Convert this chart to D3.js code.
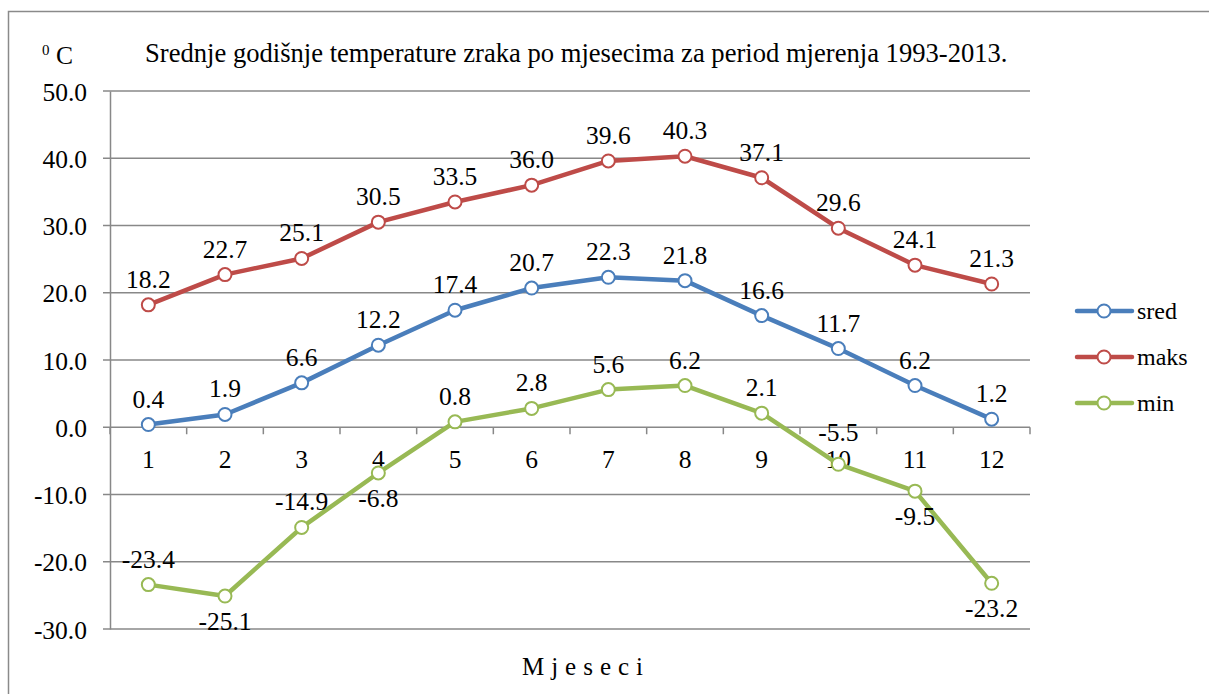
<!DOCTYPE html>
<html>
<head>
<meta charset="utf-8">
<script src="https://cdn.jsdelivr.net/npm/d3@7"></script>
<style>
  body { margin: 0; background: #fff; }
</style>
</head>
<body>
<div id="chart-area"></div>
<script>
// data
var months = [1, 2, 3, 4, 5, 6, 7, 8, 9, 10, 11, 12];
var sred = [0.4, 1.9, 6.6, 12.2, 17.4, 20.7, 22.3, 21.8, 16.6, 11.7, 6.2, 1.2];
var maks = [18.2, 22.7, 25.1, 30.5, 33.5, 36.0, 39.6, 40.3, 37.1, 29.6, 24.1, 21.3];
var min = [-23.4, -25.1, -14.9, -6.8, 0.8, 2.8, 5.6, 6.2, 2.1, -5.5, -9.5, -23.2];
var yTicks = [-30, -20, -10, 0, 10, 20, 30, 40, 50];
var seriesNames = ["sred", "maks", "min"];

// where the min labels sit relative to the marker
var minLabelSide = ["up", "down", "up", "down", "up", "up", "up", "up", "up", "high", "down", "down"];
var labelOffset = {up: -17, high: -23, down: 34};

var FONT = "Liberation Serif";
var width = 1209, height = 694;
var svg = d3.select("#chart-area").append("svg")
    .attr("width", width)
    .attr("height", height)
    .attr("font-family", FONT);

// outer frame
svg.append("rect")
    .attr("x", 8.5).attr("y", 11.5)
    .attr("width", 1220).attr("height", 700)
    .attr("fill", "none")
    .attr("stroke", "#8a8a8a")
    .attr("stroke-width", 1.5);

var x = d3.scaleBand()
    .domain(months)
    .range([110, 1030]);

var y = d3.scaleLinear()
    .domain([-30, 50])
    .range([629, 91]);

var colors = {sred: "#4A7EBB", maks: "#BE4B48", min: "#98B954"};
var series = [
    {name: "sred", values: sred},
    {name: "maks", values: maks},
    {name: "min", values: min}
];

// gridlines
svg.append("g").selectAll("line").data(yTicks).enter()
    .append("line")
        .attr("x1", 103).attr("x2", 1030)
        .attr("y1", d => y(d)).attr("y2", d => y(d))
        .attr("stroke", "#888")
        .attr("stroke-width", 1.5);

// left axis
var leftAxis = d3.axisLeft(y)
    .tickValues(yTicks)
    .tickSize(0)
    .tickPadding(23)
    .tickFormat(d => d.toFixed(1));
var gy = svg.append("g")
    .attr("transform", "translate(110,0)")
    .call(leftAxis)
    .attr("font-family", FONT)
    .attr("font-size", "25.5px");
gy.select(".domain").attr("stroke", "#888").attr("stroke-width", 1.5);
gy.selectAll("text")
    .attr("fill", "#000")
    .attr("dy", "0.36em");

// bottom axis on the zero line
var ticksX = months.map(m => x(m)).concat([x.range()[1]]);
svg.append("g").selectAll("line").data(ticksX).enter()
    .append("line")
        .attr("x1", d => d).attr("x2", d => d)
        .attr("y1", y(0)).attr("y2", y(0) + 7)
        .attr("stroke", "#888")
        .attr("stroke-width", 1.5);
svg.append("g").selectAll("text").data(months).enter()
    .append("text")
        .attr("x", d => x(d) + x.bandwidth() / 2)
        .attr("y", 468)
        .attr("text-anchor", "middle")
        .attr("font-size", "25.5px")
        .text(d => d);

// lines and markers
var line = d3.line()
    .x((d, i) => x(months[i]) + x.bandwidth() / 2)
    .y(d => y(d));

series.forEach(s => {
    svg.append("path")
        .datum(s.values)
        .attr("d", line)
        .attr("fill", "none")
        .attr("stroke", colors[s.name])
        .attr("stroke-width", 4.5)
        .attr("stroke-linejoin", "round");
    svg.append("g").selectAll("circle").data(s.values).enter()
        .append("circle")
            .attr("cx", (d, i) => x(months[i]) + x.bandwidth() / 2)
            .attr("cy", d => y(d))
            .attr("r", 6.5)
            .attr("fill", "#fff")
            .attr("stroke", colors[s.name])
            .attr("stroke-width", 2);
    svg.append("g").selectAll("text").data(s.values).enter()
        .append("text")
            .attr("x", (d, i) => x(months[i]) + x.bandwidth() / 2)
            .attr("y", (d, i) => {
                var side = s.name == "min" ? minLabelSide[i] : "up";
                return y(d) + labelOffset[side];
            })
            .attr("text-anchor", "middle")
            .attr("font-size", "25.5px")
            .text(d => d.toFixed(1));
});

// legend
var legend = svg.append("g").selectAll("g").data(seriesNames).enter()
    .append("g")
        .attr("transform", (d, i) => "translate(1077," + (311 + i * 46) + ")");
legend.append("line")
    .attr("x1", 0).attr("x2", 55)
    .attr("stroke", d => colors[d])
    .attr("stroke-width", 4.5)
    .attr("stroke-linecap", "round");
legend.append("circle")
    .attr("cx", 27).attr("r", 6.5)
    .attr("fill", "#fff")
    .attr("stroke", d => colors[d])
    .attr("stroke-width", 2);
legend.append("text")
    .attr("x", 60).attr("y", 8)
    .attr("font-size", "24px")
    .text(d => d);

// titles
svg.append("text")
    .attr("x", 145).attr("y", 62)
    .attr("font-size", "26.6px")
    .text("Srednje godišnje temperature zraka po mjesecima za period mjerenja 1993-2013.");

var unit = svg.append("text")
    .attr("x", 42).attr("y", 64)
    .attr("font-size", "25.5px");
unit.append("tspan").attr("font-size", "15px").attr("dy", "-9").text("0");
unit.append("tspan").attr("dy", "9").text(" C");

svg.append("text")
    .attr("x", 586).attr("y", 675)
    .attr("text-anchor", "middle")
    .attr("font-size", "25px")
    .attr("letter-spacing", "7px")
    .text("Mjeseci");
</script>
</body>
</html>
